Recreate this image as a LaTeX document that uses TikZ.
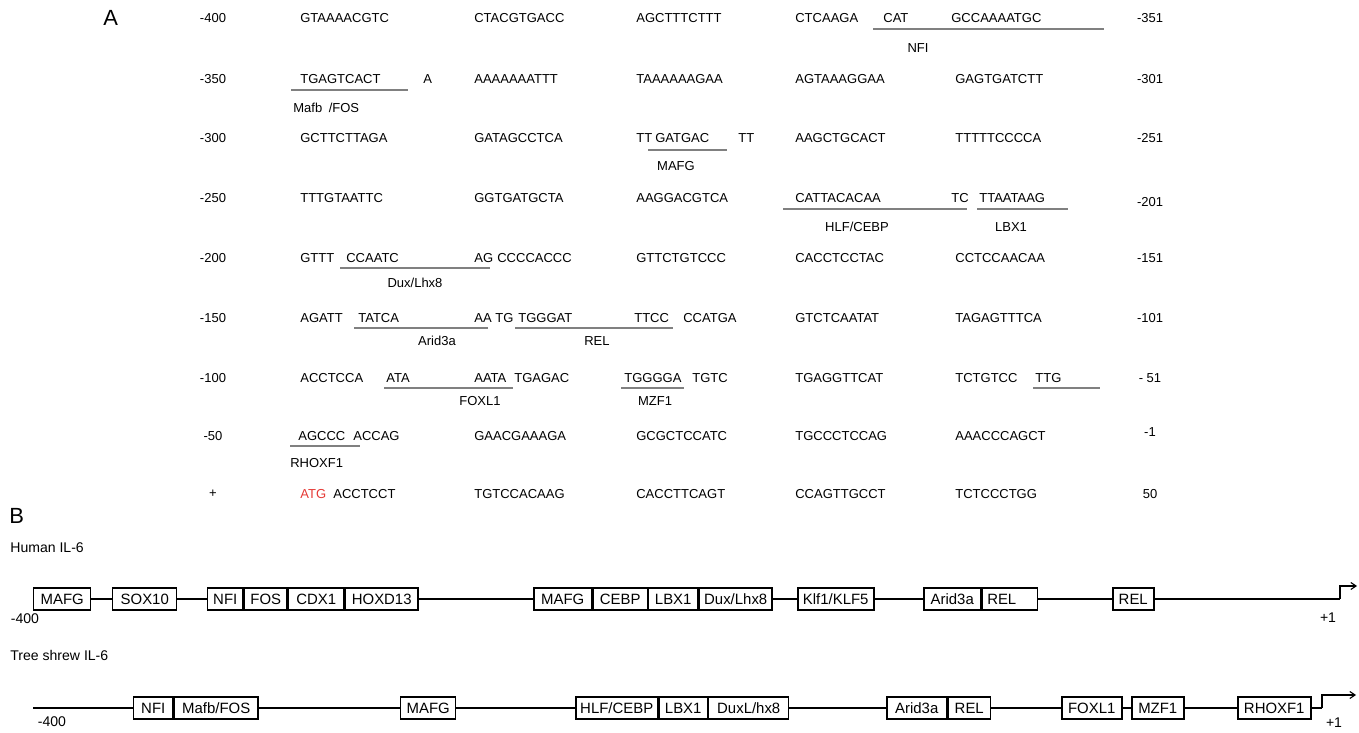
\documentclass[tikz,border=0pt]{standalone}
\usepackage{fontspec}
\setmainfont{Liberation Sans}
\usetikzlibrary{arrows.meta,positioning}
\definecolor{ATGred}{HTML}{E53935}
\definecolor{ulgray}{HTML}{808080}

\begin{document}
\begin{tikzpicture}[x=0.02cm,y=-0.02cm,>={Straight Barb[length=3pt,width=4pt]},
  seq/.style={inner sep=0pt,anchor=west,font=\fontsize{7.4}{9}\selectfont},
  num/.style={inner sep=0pt,font=\fontsize{7.4}{9}\selectfont},
  ul/.style={ulgray,line width=0.7pt},
  panel/.style={inner sep=0pt,anchor=west,font=\fontsize{12.5}{14}\selectfont},
  lab/.style={inner sep=0pt,font=\fontsize{8}{10}\selectfont},
  tfbox/.style={draw,fill=white,line width=0.85pt,minimum height=0.44cm,minimum width={#1*0.02cm},inner sep=1pt,font=\fontsize{8.5}{10}\selectfont},
  bb/.style={line width=0.85pt}]
  \useasboundingbox (0,0) rectangle (1359,733);
  \node[panel] (pa) at (103,18) {A};
  \foreach \t/\y [count=\i] in {-400/18,-350/79,-300/138,-250/198,-200/258,-150/318,-100/378,-50/436,+/494}
    \node[num] (l\i) at (213,\y) {\t};
  \foreach \t/\y [count=\i] in {-351/18,-301/79,-251/138,-201/202,-151/258,-101/318,- 51/378,-1/432,50/494}
    \node[num] (r\i) at (1150,\y) {\t};

  \node[seq] (s1a) at (300,18) {GTAAAACGTC};
  \node[seq] (s1b) at (474,18) {CTACGTGACC};
  \node[seq] (s1c) at (636,18) {AGCTTTCTTT};
  \node[seq] (s1d) at (795,18) {CTCAAGA};
  \node[seq] (s1e) at (883,18) {CAT};
  \node[seq] (s1f) at (951,18) {GCCAAAATGC};
  \draw[ul] (873,29) -- (1104,29);
  \node[num] (nfi) at (918,48) {NFI};

  \node[seq] (s2a) at (300,79) {TGAGTCACT};
  \node[seq] (s2b) at (423,79) {A};
  \node[seq] (s2c) at (474,79) {AAAAAAATTT};
  \node[seq] (s2d) at (636,79) {TAAAAAAGAA};
  \node[seq] (s2e) at (795,79) {AGTAAAGGAA};
  \node[seq] (s2f) at (955,79) {GAGTGATCTT};
  \draw[ul] (291,90) -- (408,90);
  \node[seq] (mafb) at (293,108) {Mafb\enspace/FOS};

  \node[seq] (s3a) at (300,138) {GCTTCTTAGA};
  \node[seq] (s3b) at (474,138) {GATAGCCTCA};
  \node[seq] (s3c) at (636,138) {TT};
  \node[seq] (s3d) at (655,138) {GATGAC};
  \node[seq] (s3e) at (738,138) {TT};
  \node[seq] (s3f) at (795,138) {AAGCTGCACT};
  \node[seq] (s3g) at (955,138) {TTTTTCCCCA};
  \draw[ul] (648,150) -- (727,150);
  \node[num] (mafg) at (676,166) {MAFG};

  \node[seq] (s4a) at (300,198) {TTTGTAATTC};
  \node[seq] (s4b) at (474,198) {GGTGATGCTA};
  \node[seq] (s4c) at (636,198) {AAGGACGTCA};
  \node[seq] (s4d) at (795,198) {CATTACACAA};
  \node[seq] (s4e) at (951,198) {TC};
  \node[seq] (s4f) at (979,198) {TTAATAAG};
  \draw[ul] (783,209) -- (967,209); \draw[ul] (977,209) -- (1068,209);
  \node[num] (hlf) at (857,227) {HLF/CEBP};
  \node[num] (lbx) at (1011,227) {LBX1};

  \node[seq] (s5a) at (300,258) {GTTT};
  \node[seq] (s5b) at (346,258) {CCAATC};
  \node[seq] (s5c) at (474,258) {AG};
  \node[seq] (s5d) at (497,258) {CCCCACCC};
  \node[seq] (s5e) at (636,258) {GTTCTGTCCC};
  \node[seq] (s5f) at (795,258) {CACCTCCTAC};
  \node[seq] (s5g) at (955,258) {CCTCCAACAA};
  \draw[ul] (340,268) -- (490,268);
  \node[num] (dux) at (415,283) {Dux/Lhx8};

  \node[seq] (s6a) at (300,318) {AGATT};
  \node[seq] (s6b) at (358,318) {TATCA};
  \node[seq] (s6c) at (474,318) {AA};
  \node[seq] (s6d) at (495,318) {TG};
  \node[seq] (s6e) at (518,318) {TGGGAT};
  \node[seq] (s6f) at (634,318) {TTCC};
  \node[seq] (s6g) at (683,318) {CCATGA};
  \node[seq] (s6h) at (795,318) {GTCTCAATAT};
  \node[seq] (s6i) at (955,318) {TAGAGTTTCA};
  \draw[ul] (354,328) -- (488,328); \draw[ul] (515,328) -- (673,328);
  \node[num] (arid) at (437,341) {Arid3a};
  \node[num] (rel) at (597,341) {REL};

  \node[seq] (s7a) at (300,378) {ACCTCCA};
  \node[seq] (s7b) at (386,378) {ATA};
  \node[seq] (s7c) at (474,378) {AATA};
  \node[seq] (s7d) at (514,378) {TGAGAC};
  \node[seq] (s7e) at (624,378) {TGGGGA};
  \node[seq] (s7f) at (692,378) {TGTC};
  \node[seq] (s7g) at (795,378) {TGAGGTTCAT};
  \node[seq] (s7h) at (955,378) {TCTGTCC};
  \node[seq] (s7i) at (1035,378) {TTG};
  \draw[ul] (384,388) -- (513,388); \draw[ul] (621,388) -- (684,388); \draw[ul] (1033,388) -- (1100,388);
  \node[num] (foxl) at (480,401) {FOXL1};
  \node[num] (mzf) at (655,401) {MZF1};

  \node[seq] (s8a) at (298,436) {AGCCC};
  \node[seq] (s8b) at (353,436) {ACCAG};
  \node[seq] (s8c) at (474,436) {GAACGAAAGA};
  \node[seq] (s8d) at (636,436) {GCGCTCCATC};
  \node[seq] (s8e) at (795,436) {TGCCCTCCAG};
  \node[seq] (s8f) at (955,436) {AAACCCAGCT};
  \draw[ul] (290,446) -- (360,446);
  \node[seq] (rhox) at (290,463) {RHOXF1};

  \node[seq,ATGred] (atg) at (300,494) {ATG};
  \node[seq] (s9a) at (333,494) {ACCTCCT};
  \node[seq] (s9b) at (474,494) {TGTCCACAAG};
  \node[seq] (s9c) at (636,494) {CACCTTCAGT};
  \node[seq] (s9d) at (795,494) {CCAGTTGCCT};
  \node[seq] (s9e) at (955,494) {TCTCCCTGG};

  \node[panel] (pb) at (9,516) {B};
  \node[lab,anchor=west] (human) at (10,548) {Human IL-6};
  \node[lab] (hm) at (25,619) {-400};
  \node[lab] (hp) at (1328,618) {+1};
  \coordinate (hs) at (33,599); \coordinate (he) at (1340,599); \coordinate (ht) at (1357,586);
  \node[tfbox=57,anchor=west] (hmafg) at (33,599) {MAFG};
  \node[tfbox=64,anchor=west] (hsox) at (112,599) {SOX10};
  \node[tfbox=35,anchor=west] (hnfi) at (207,599) {NFI};
  \node[tfbox=43,right=0pt of hnfi] (hfos) {FOS};
  \node[tfbox=55,right=0pt of hfos] (hcdx) {CDX1};
  \node[tfbox=73,right=0pt of hcdx] (hhox) {HOXD13};
  \node[tfbox=58,anchor=west] (hmafg2) at (533,599) {MAFG};
  \node[tfbox=54,right=0pt of hmafg2] (hcebp) {CEBP};
  \node[tfbox=49,right=0pt of hcebp] (hlbx) {LBX1};
  \node[tfbox=73,right=0pt of hlbx] (hdux) {Dux/Lhx8};
  \node[tfbox=76,anchor=west] (hklf) at (797,599) {Klf1/KLF5};
  \node[tfbox=57,anchor=west] (harid) at (923,599) {Arid3a};
  \node[tfbox=55,right=0pt of harid,text width=45*0.02cm,align=left] (hrel) {REL};
  \node[tfbox=41,anchor=west] (hrel2) at (1112,599) {REL};
  \draw[bb] (hmafg)--(hsox); \draw[bb] (hsox)--(hnfi); \draw[bb] (hhox)--(hmafg2); \draw[bb] (hdux)--(hklf);
  \draw[bb] (hklf)--(harid); \draw[bb] (hrel)--(hrel2); \draw[bb] (hrel2)--(he);
  \draw[line width=0.6pt,->] (he) |- (ht);

  \node[lab,anchor=west] (tree) at (10,655) {Tree shrew IL-6};
  \node[lab] (tm) at (52,722) {-400};
  \node[lab] (tp) at (1334,723) {+1};
  \coordinate (ts) at (33,708); \coordinate (te) at (1322,708); \coordinate (tt) at (1356,695);
  \node[tfbox=39,anchor=west] (tnfi) at (133,708) {NFI};
  \node[tfbox=84,right=0pt of tnfi] (tmafb) {Mafb/FOS};
  \node[tfbox=55,anchor=west] (tmafg) at (400,708) {MAFG};
  \node[tfbox=82,anchor=west] (thlf) at (575,708) {HLF/CEBP};
  \node[tfbox=48,right=0pt of thlf] (tlbx) {LBX1};
  \node[tfbox=80,right=0pt of tlbx] (tdux) {DuxL/hx8};
  \node[tfbox=60,anchor=west] (tarid) at (886,708) {Arid3a};
  \node[tfbox=42,right=0pt of tarid] (trel) {REL};
  \node[tfbox=60,anchor=west] (tfox) at (1061,708) {FOXL1};
  \node[tfbox=52,anchor=west] (tmzf) at (1131,708) {MZF1};
  \node[tfbox=73,anchor=west] (trho) at (1237,708) {RHOXF1};
  \draw[bb] (ts)--(tnfi); \draw[bb] (tmafb)--(tmafg); \draw[bb] (tmafg)--(thlf); \draw[bb] (tdux)--(tarid);
  \draw[bb] (trel)--(tfox); \draw[bb] (tfox)--(tmzf); \draw[bb] (tmzf)--(trho); \draw[bb] (trho)--(te);
  \draw[line width=0.6pt,->] (te) |- (tt);
\end{tikzpicture}
\end{document}
